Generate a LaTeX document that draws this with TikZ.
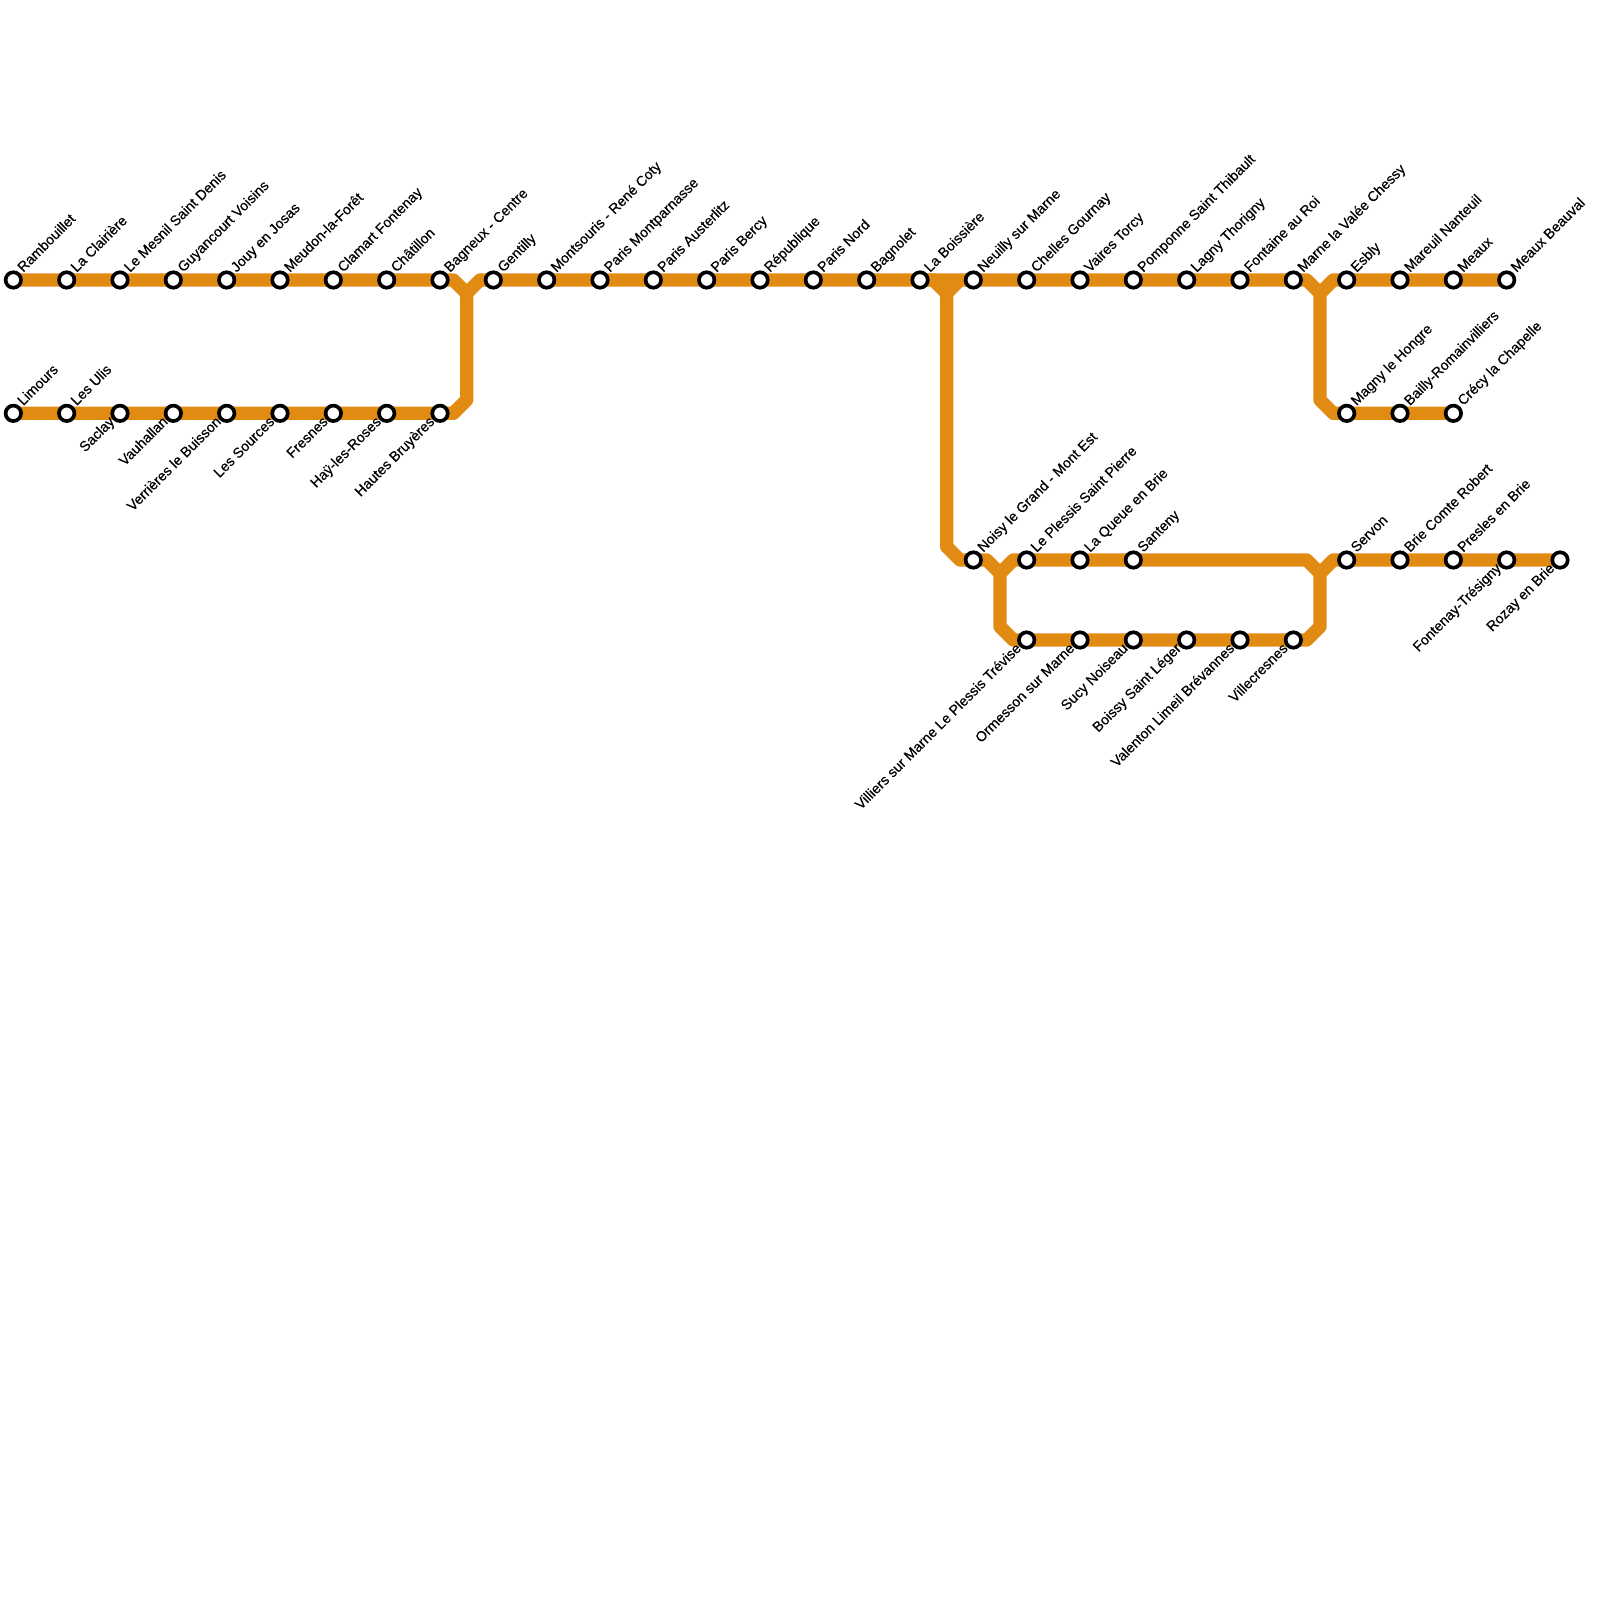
\documentclass[tikz,border=0pt]{standalone}
\usepackage{fontspec}
\newfontfamily\stnfont[FakeBold=0.5]{Liberation Sans}
\usetikzlibrary{backgrounds}
\definecolor{lineorange}{RGB}{225,139,19}

\begin{document}
\begin{tikzpicture}[
          x=0.2cm, y=-0.2cm,
          font=\stnfont\fontsize{6.05pt}{7pt}\selectfont,
          stn/.style={circle, draw=black, fill=white, line width=1.56pt, minimum size=6.6pt, inner sep=0pt},
          upl/.style={rotate=45, anchor=base west, inner sep=0pt, xshift=0.89pt, yshift=-0.85pt},
          dnl/.style={rotate=45, anchor=base east, inner sep=0pt, xshift=0.02pt, yshift=-1.35pt},
          track/.style={draw=lineorange, line width=0.2cm, line join=round}
        ]
        \useasboundingbox (0,0) rectangle (120,120);

        % -------- Top row --------
        \node[stn, label={[upl]45:Rambouillet}] (rambouillet) at (1,21) {};
        \node[stn, label={[upl]45:La Clairière}] (clairiere) at (5,21) {};
        \node[stn, label={[upl]45:Le Mesnil Saint Denis}] (mesnil) at (9,21) {};
        \node[stn, label={[upl]45:Guyancourt Voisins}] (guyancourt) at (13,21) {};
        \node[stn, label={[upl]45:Jouy en Josas}] (jouy) at (17,21) {};
        \node[stn, label={[upl]45:Meudon-la-Forêt}] (meudon) at (21,21) {};
        \node[stn, label={[upl]45:Clamart Fontenay}] (clamart) at (25,21) {};
        \node[stn, label={[upl]45:Châtillon}] (chatillon) at (29,21) {};
        \node[stn, label={[upl]45:Bagneux - Centre}] (bagneux) at (33,21) {};
        \node[stn, label={[upl]45:Gentilly}] (gentilly) at (37,21) {};
        \node[stn, label={[upl]45:Montsouris - René Coty}] (montsouris) at (41,21) {};
        \node[stn, label={[upl]45:Paris Montparnasse}] (montparnasse) at (45,21) {};
        \node[stn, label={[upl]45:Paris Austerlitz}] (austerlitz) at (49,21) {};
        \node[stn, label={[upl]45:Paris Bercy}] (bercy) at (53,21) {};
        \node[stn, label={[upl]45:République}] (republique) at (57,21) {};
        \node[stn, label={[upl]45:Paris Nord}] (nord) at (61,21) {};
        \node[stn, label={[upl]45:Bagnolet}] (bagnolet) at (65,21) {};
        \node[stn, label={[upl]45:La Boissière}] (boissiere) at (69,21) {};
        \node[stn, label={[upl]45:Neuilly sur Marne}] (neuilly) at (73,21) {};
        \node[stn, label={[upl]45:Chelles Gournay}] (chelles) at (77,21) {};
        \node[stn, label={[upl]45:Vaires Torcy}] (vaires) at (81,21) {};
        \node[stn, label={[upl]45:Pomponne Saint Thibault}] (pomponne) at (85,21) {};
        \node[stn, label={[upl]45:Lagny Thorigny}] (lagny) at (89,21) {};
        \node[stn, label={[upl]45:Fontaine au Roi}] (fontaine) at (93,21) {};
        \node[stn, label={[upl]45:Marne la Valée Chessy}] (chessy) at (97,21) {};
        \node[stn, label={[upl]45:Esbly}] (esbly) at (101,21) {};
        \node[stn, label={[upl]45:Mareuil Nanteuil}] (mareuil) at (105,21) {};
        \node[stn, label={[upl]45:Meaux}] (meaux) at (109,21) {};
        \node[stn, label={[upl]45:Meaux Beauval}] (beauval) at (113,21) {};

        % -------- Second row --------
        \node[stn, label={[upl]45:Limours}] (limours) at (1,31) {};
        \node[stn, label={[upl]45:Les Ulis}] (ulis) at (5,31) {};
        \node[stn, label={[dnl]225:Saclay}] (saclay) at (9,31) {};
        \node[stn, label={[dnl]225:Vauhallan}] (vauhallan) at (13,31) {};
        \node[stn, label={[dnl]225:Verrières le Buisson}] (verrieres) at (17,31) {};
        \node[stn, label={[dnl]225:Les Sources}] (sources) at (21,31) {};
        \node[stn, label={[dnl]225:Fresnes}] (fresnes) at (25,31) {};
        \node[stn, label={[dnl]225:Haÿ-les-Roses}] (hay) at (29,31) {};
        \node[stn, label={[dnl]225:Hautes Bruyères}] (hautes) at (33,31) {};
        \node[stn, label={[upl]45:Magny le Hongre}] (magny) at (101,31) {};
        \node[stn, label={[upl]45:Bailly-Romainvilliers}] (bailly) at (105,31) {};
        \node[stn, label={[upl]45:Crécy la Chapelle}] (crecy) at (109,31) {};

        % -------- Third row --------
        \node[stn, label={[upl]45:Noisy le Grand - Mont Est}] (noisy) at (73,42) {};
        \node[stn, label={[upl]45:Le Plessis Saint Pierre}] (plessis) at (77,42) {};
        \node[stn, label={[upl]45:La Queue en Brie}] (queue) at (81,42) {};
        \node[stn, label={[upl]45:Santeny}] (santeny) at (85,42) {};
        \node[stn, label={[upl]45:Servon}] (servon) at (101,42) {};
        \node[stn, label={[upl]45:Brie Comte Robert}] (brie) at (105,42) {};
        \node[stn, label={[upl]45:Presles en Brie}] (presles) at (109,42) {};
        \node[stn, label={[dnl]225:Fontenay-Trésigny}] (fontenay) at (113,42) {};
        \node[stn, label={[dnl]225:Rozay en Brie}] (rozay) at (117,42) {};

        % -------- Fourth row --------
        \node[stn, label={[dnl]225:Villiers sur Marne Le Plessis Trévise}] (villiers) at (77,48) {};
        \node[stn, label={[dnl]225:Ormesson sur Marne}] (ormesson) at (81,48) {};
        \node[stn, label={[dnl]225:Sucy Noiseau}] (sucy) at (85,48) {};
        \node[stn, label={[dnl]225:Boissy Saint Léger}] (boissy) at (89,48) {};
        \node[stn, label={[dnl]225:Valenton Limeil Brévannes}] (valenton) at (93,48) {};
        \node[stn, label={[dnl]225:Villecresnes}] (villecresnes) at (97,48) {};

        % -------- Junctions --------
        \coordinate (jA) at (35,22);
        \coordinate (jB) at (71,22);
        \coordinate (jC) at (75,43);
        \coordinate (jD) at (99,22);
        \coordinate (jE) at (99,43);

        % -------- Tracks --------
        \begin{scope}[on background layer]
          \draw[track] (rambouillet.center) -- (bagneux.center) -- (34,21) -- (jA) -- (35,30) -- (34,31) -- (limours.center);
          \draw[track] (jA) -- (36,21) -- (gentilly.center) -- (chessy.center) -- (98,21) -- (jD) -- (99,30) -- (100,31) -- (crecy.center);
          \draw[track] (jD) -- (100,21) -- (beauval.center);
          \draw[track] (boissiere.center) -- (70,21) -- (jB) -- (71,41) -- (72,42) -- (74,42) -- (jC) -- (75,47) -- (76,48) -- (villecresnes.center) -- (98,48) -- (99,47) -- (jE);
          \draw[track] (72,21) -- (jB);
          \draw[track] (jC) -- (76,42) -- (98,42) -- (jE) -- (100,42) -- (rozay.center);
        \end{scope}

      \end{tikzpicture}
\end{document}
